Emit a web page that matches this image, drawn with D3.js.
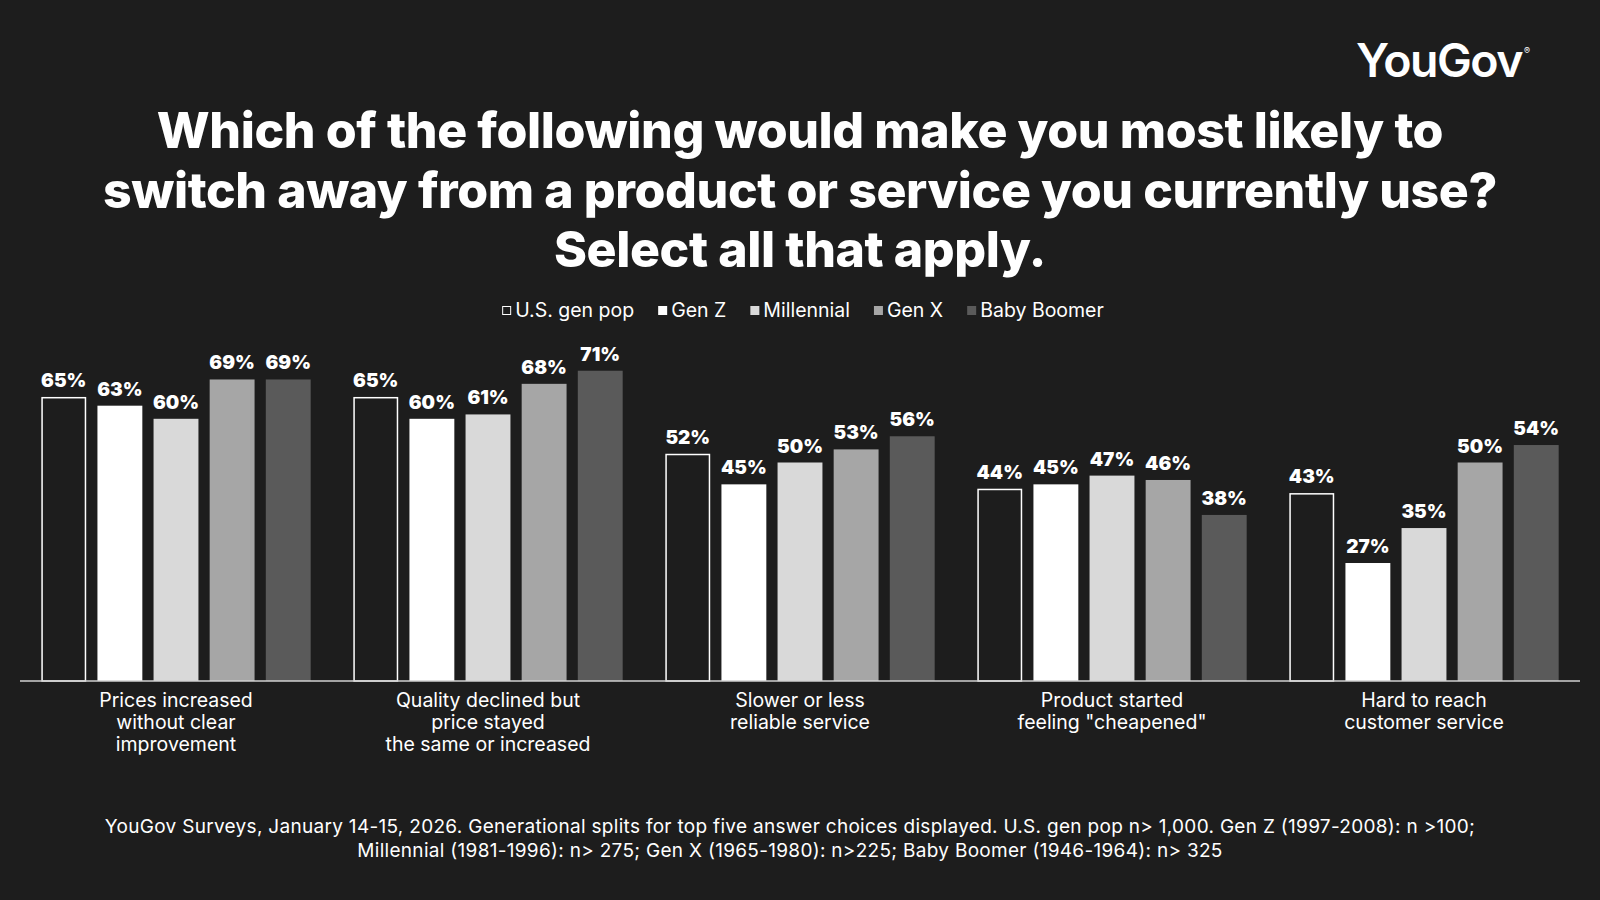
<!DOCTYPE html>
<html>
<head>
<meta charset="utf-8">
<script src="https://cdn.jsdelivr.net/npm/d3@7"></script>
<style>
  html, body { margin: 0; padding: 0; background: #1d1d1d; }
  svg { display: block; }
</style>
</head>
<body>
<svg id="chart" width="1600" height="900"></svg>
<script>
// answer choices, one label line per entry
const categories = [
  ["Prices increased", "without clear", "improvement"],
  ["Quality declined but", "price stayed", "the same or increased"],
  ["Slower or less", "reliable service"],
  ["Product started", "feeling \"cheapened\""],
  ["Hard to reach", "customer service"]
];
const seriesNames = ["U.S. gen pop", "Gen Z", "Millennial", "Gen X", "Baby Boomer"];
const genPop     = [65, 65, 52, 44, 43];
const genZ       = [63, 60, 45, 45, 27];
const millennial = [60, 61, 50, 47, 35];
const genX       = [69, 68, 53, 46, 50];
const boomer     = [69, 71, 56, 38, 54];
const seriesValues = [genPop, genZ, millennial, genX, boomer];

const titleLines = [
  "Which of the following would make you most likely to",
  "switch away from a product or service you currently use?",
  "Select all that apply."
];
const footerLines = [
  "YouGov Surveys, January 14-15, 2026. Generational splits for top five answer choices displayed. U.S. gen pop n> 1,000. Gen Z (1997-2008): n >100;",
  "Millennial (1981-1996): n> 275; Gen X (1965-1980): n>225; Baby Boomer (1946-1964): n> 325"
];

const bg = "#1d1d1d";
const fills = ["none", "#ffffff", "#d9d9d9", "#a6a6a6", "#5a5a5a"];
const font = "Inter, 'Noto Sans', sans-serif";

const svg = d3.select("#chart");
svg.append("rect").attr("width", 1600).attr("height", 900).attr("fill", bg);

// logo
svg.append("text")
  .attr("x", 1522).attr("y", 77)
  .attr("text-anchor", "end")
  .attr("font-family", font).attr("font-weight", 600)
  .attr("font-size", 46.5).attr("letter-spacing", -1.5)
  .attr("fill", "#fff").text("YouGov");
svg.append("text")
  .attr("x", 1524).attr("y", 54)
  .attr("font-family", font).attr("font-size", 9)
  .attr("fill", "#fff").text("®");

// title
svg.append("g").selectAll("text")
  .data(titleLines).join("text")
  .attr("x", 800).attr("y", (d, i) => 148 + i * 59.5)
  .attr("text-anchor", "middle")
  .attr("font-family", font).attr("font-weight", 800)
  .attr("font-size", 50).attr("letter-spacing", -0.4)
  .attr("fill", "#fff").text(d => d);

// scales
const baseY = 681;
const x0 = d3.scaleBand().domain(d3.range(categories.length)).range([20, 1580]);
const x1 = d3.scaleBand().domain(d3.range(seriesNames.length))
  .range([0, x0.bandwidth()]).paddingInner(0.2).paddingOuter(0.38);
const y = d3.scaleLinear().domain([0, 100]).range([baseY, baseY - 437]);

// legend
const legend = svg.append("g");
let lx = 0;
seriesNames.forEach((name, i) => {
  const item = legend.append("g").attr("transform", `translate(${lx},0)`);
  if (i === 0) {
    item.append("rect").attr("x", 0.5).attr("y", -10.5).attr("width", 8).attr("height", 8)
      .attr("fill", "none").attr("stroke", "#fff").attr("stroke-width", 1);
  } else {
    item.append("rect").attr("x", 0).attr("y", -11).attr("width", 9).attr("height", 9)
      .attr("fill", fills[i]);
  }
  const t = item.append("text").attr("x", 13).attr("y", 0)
    .attr("font-family", font).attr("font-size", 19.5)
    .attr("fill", "#fff").text(name);
  lx += 13 + t.node().getComputedTextLength() + 24;
});
lx -= 24;
legend.attr("transform", `translate(${800 - lx / 2 + 3},317)`);

// bars
const groups = svg.append("g").selectAll("g")
  .data(categories).join("g")
  .attr("transform", (d, i) => `translate(${x0(i)},0)`);

groups.each(function(cat, ci) {
  const g = d3.select(this);
  seriesValues.forEach((vals, si) => {
    const v = vals[ci];
    if (si === 0) {
      g.append("rect")
        .attr("x", x1(si) + 0.75).attr("y", y(v) + 0.75)
        .attr("width", x1.bandwidth() - 1.5).attr("height", baseY - y(v) - 0.75)
        .attr("fill", "none").attr("stroke", "#fff").attr("stroke-width", 1.5);
    } else {
      g.append("rect")
        .attr("x", x1(si)).attr("y", y(v))
        .attr("width", x1.bandwidth()).attr("height", baseY - y(v))
        .attr("fill", fills[si]);
    }
    g.append("text")
      .attr("x", x1(si) + x1.bandwidth() / 2).attr("y", y(v) - 10)
      .attr("text-anchor", "middle")
      .attr("font-family", font).attr("font-weight", 900)
      .attr("font-size", 19)
      .attr("fill", "#fff").text(v + "%");
  });
  g.append("g").selectAll("text")
    .data(cat).join("text")
    .attr("x", x0.bandwidth() / 2).attr("y", (d, i) => 707 + i * 22)
    .attr("text-anchor", "middle")
    .attr("font-family", font).attr("font-size", 19.5)
    .attr("fill", "#fff").text(d => d);
});

// baseline
svg.append("line")
  .attr("x1", 20).attr("x2", 1580).attr("y1", baseY).attr("y2", baseY)
  .attr("stroke", "#d0d0d0").attr("stroke-width", 1.5);

// footer
svg.append("g").selectAll("text")
  .data(footerLines).join("text")
  .attr("x", 790).attr("y", (d, i) => 833 + i * 23.5)
  .attr("text-anchor", "middle")
  .attr("font-family", font).attr("font-size", 19)
  .attr("letter-spacing", 0.3)
  .attr("fill", "#fff").text(d => d);
</script>
</body>
</html>
